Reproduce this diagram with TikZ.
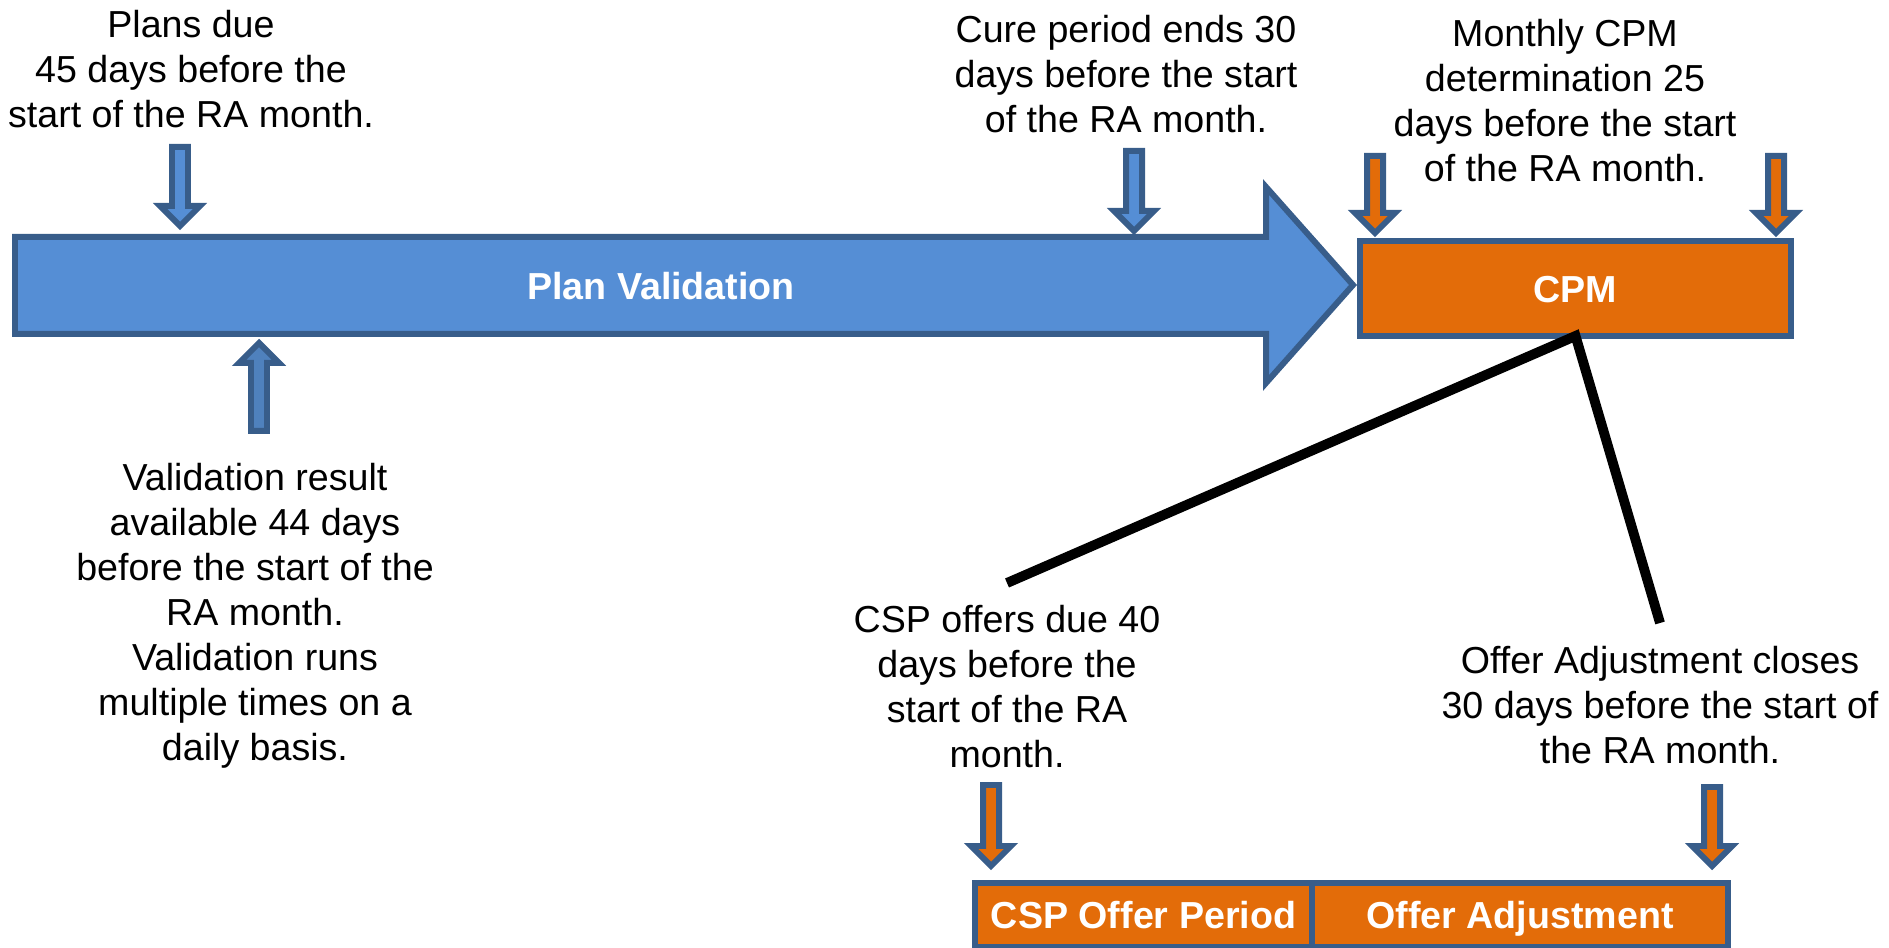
\documentclass[tikz,border=0pt]{standalone}
\usepackage{fontspec}
\setmainfont{Liberation Sans}
\usetikzlibrary{positioning}
\definecolor{pvblue}{RGB}{85,142,213}
\definecolor{pvdark}{RGB}{79,129,189}
\definecolor{edgeblue}{RGB}{56,93,138}
\definecolor{cpmorange}{RGB}{227,108,9}
\tikzset{
    note/.style={align=center, inner sep=0pt, anchor=north, font=\fontsize{10.7}{12.8}\selectfont},
    phase/.style={draw=edgeblue, line width=1.7pt, fill=cpmorange, text=white, inner sep=0pt, outer sep=0pt,
        minimum height=0.64cm, text height=0.32cm, text depth=0.04cm, font=\fontsize{10.7}{12.8}\selectfont\bfseries},
    marker/.style={draw=edgeblue, line width=1.7pt},
}
\begin{document}
\begin{tikzpicture}
                \useasboundingbox (0,0) rectangle (18.89,9.48);
                \draw[marker, fill=pvblue] (0.15,7.11) -- (12.66,7.11) -- (12.66,7.61) -- (13.53,6.63)
                    -- (12.66,5.65) -- (12.66,6.14) -- (0.15,6.14) -- cycle;
                \node[text=white, font=\fontsize{10.7}{12.8}\selectfont\bfseries] (pv) at (6.61,6.62) {Plan Validation};
                \node[phase, minimum width=4.31cm, minimum height=0.95cm] (cpm) at (15.755,6.595) {CPM};
                \node[phase, minimum width=3.37cm] (csp) at (11.435,0.33) {CSP Offer Period};
                \node[phase, minimum width=4.16cm, right=0pt of csp] (adj) {Offer Adjustment};
                \node[note] (plans) at (1.91,9.38) {Plans due\\45 days before the\\start of the RA month.};
                \node[note] (cure) at (11.26,9.33) {Cure period ends 30\\days before the start\\of the RA month.};
                \node[note] (cpmdate) at (15.65,9.29) {Monthly CPM\\determination 25\\days before the start\\of the RA month.};
                \node[note] (result) at (2.55,4.85) {Validation result\\available 44 days\\before the start of the\\RA month.\\Validation runs\\multiple times on a\\daily basis.};
                \node[note] (cspdue) at (10.07,3.43) {CSP offers due 40\\days before the\\start of the RA\\month.};
                \node[note] (adjclose) at (16.60,3.02) {Offer Adjustment closes\\30 days before the start of\\the RA month.};
                \coordinate (cspend) at ([yshift=0.22cm]cspdue.north);
                \coordinate (adjend) at ([yshift=0.23cm]adjclose.north);
                \draw[line width=2.8pt] (cspend) -- (cpm.south) -- (adjend);
                \coordinate (t1) at (1.80,7.22);
                \coordinate (t2) at (2.59,6.05);
                \coordinate (t3) at (11.34,7.17);
                \coordinate (t4) at (13.75,7.15);
                \coordinate (t5) at (17.76,7.15);
                \coordinate (t6) at (9.91,0.82);
                \coordinate (t7) at (17.12,0.82);
                \foreach \t/\len/\col in {t1/0.79/pvblue, t3/0.80/pvblue, t4/0.77/cpmorange,
                                          t5/0.77/cpmorange, t6/0.81/cpmorange, t7/0.79/cpmorange} {
                    \draw[marker, fill=\col] (\t) -- ++(-0.2,0.2) -- ++(0.12,0) -- ++(0,\len-0.2)
                        -- ++(0.16,0) -- ++(0,0.2-\len) -- ++(0.12,0) -- cycle;
                }
                \draw[marker, fill=pvdark] (t2) -- ++(-0.2,-0.2) -- ++(0.12,0) -- ++(0,-0.68)
                    -- ++(0.16,0) -- ++(0,0.68) -- ++(0.12,0) -- cycle;
            \end{tikzpicture}
\end{document}
